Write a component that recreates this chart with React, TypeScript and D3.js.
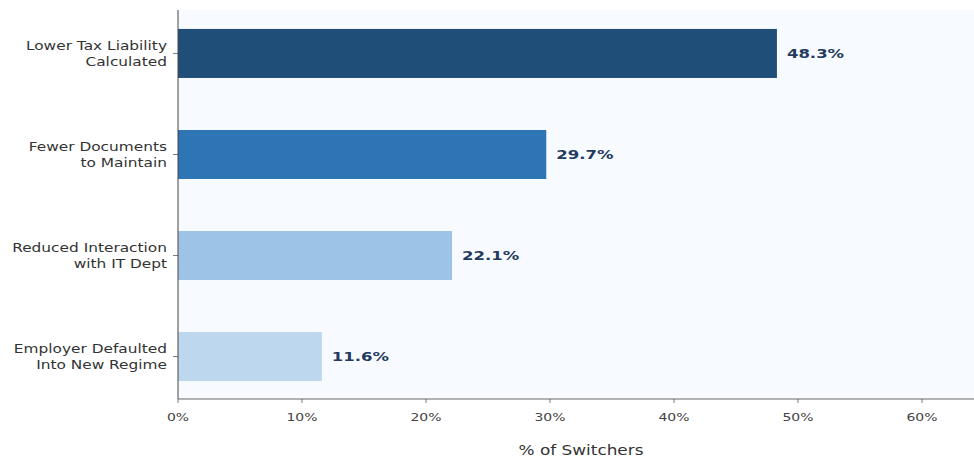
import React from "react";
import * as d3 from "d3";

const categories: string[][] = [
  ["Lower Tax Liability", "Calculated"],
  ["Fewer Documents", "to Maintain"],
  ["Reduced Interaction", "with IT Dept"],
  ["Employer Defaulted", "Into New Regime"],
];
const values: number[] = [48.3, 29.7, 22.1, 11.6];
const barColors: string[] = ["#1f4e79", "#2e75b6", "#9dc3e6", "#bdd7ee"];
const xTicks: number[] = [0, 10, 20, 30, 40, 50, 60];
const xLabel = "% of Switchers";

const W = 974;
const H = 460;
const left = 178;
const top = 10;
const bottom = 399;
const font = "DejaVu Sans, sans-serif";
const SX = 1.27;

function T(props: {
  x: number;
  y: number;
  size: number;
  anchor?: string;
  weight?: string;
  fill: string;
  dy?: string;
  children: React.ReactNode;
}) {
  return (
    <text
      transform={`translate(${props.x},${props.y}) scale(${SX},1)`}
      dy={props.dy}
      textAnchor={props.anchor || "start"}
      fontFamily={font}
      fontSize={props.size}
      fontWeight={props.weight || "normal"}
      fill={props.fill}
    >
      {props.children}
    </text>
  );
}

export default function App() {
  const x = d3.scaleLinear().domain([0, 10]).range([left, left + 124]);
  const xMax = x.invert(W + 20);
  const y = d3.scaleLinear().domain([-0.43, categories.length - 1 + 0.42]).range([top, bottom]);
  const barH = y(0.485) - y(0);

  return (
    <svg width={W} height={H} style={{ position: "absolute", left: 0, top: 0, background: "#fff" }}>
      <rect x={left} y={top} width={x(xMax) - left} height={bottom - top} fill="#f7fbff" />
      {values.map((v, i) => (
        <g key={i}>
          <rect
            x={x(0)}
            y={y(i) - barH / 2}
            width={x(v) - x(0)}
            height={barH}
            fill={barColors[i]}
          />
          <T x={x(v) + 10} y={y(i)} dy="0.35em" size={13} weight="bold" fill="#23395d">
            {v.toFixed(1)}%
          </T>
          <line x1={left - 5} x2={left} y1={y(i)} y2={y(i)} stroke="#555" strokeWidth={0.8} />
          {categories[i].map((line, j) => (
            <T
              key={j}
              x={left - 11}
              y={y(i) + (j - (categories[i].length - 1) / 2) * 16}
              dy="0.35em"
              anchor="end"
              size={12.1}
              fill="#333"
            >
              {line}
            </T>
          ))}
        </g>
      ))}
      <line x1={left} x2={left} y1={top} y2={bottom} stroke="#444" strokeWidth={1} />
      <line x1={left} x2={W} y1={bottom} y2={bottom} stroke="#666" strokeWidth={1.2} />
      {xTicks.map((t) => (
        <g key={t}>
          <line x1={x(t)} x2={x(t)} y1={bottom} y2={bottom + 4} stroke="#555" strokeWidth={0.8} />
          <T x={x(t)} y={bottom + 22} anchor="middle" size={11} fill="#444">
            {t}%
          </T>
        </g>
      ))}
      <T x={581} y={455} anchor="middle" size={13.3} fill="#333">
        {xLabel}
      </T>
    </svg>
  );
}
